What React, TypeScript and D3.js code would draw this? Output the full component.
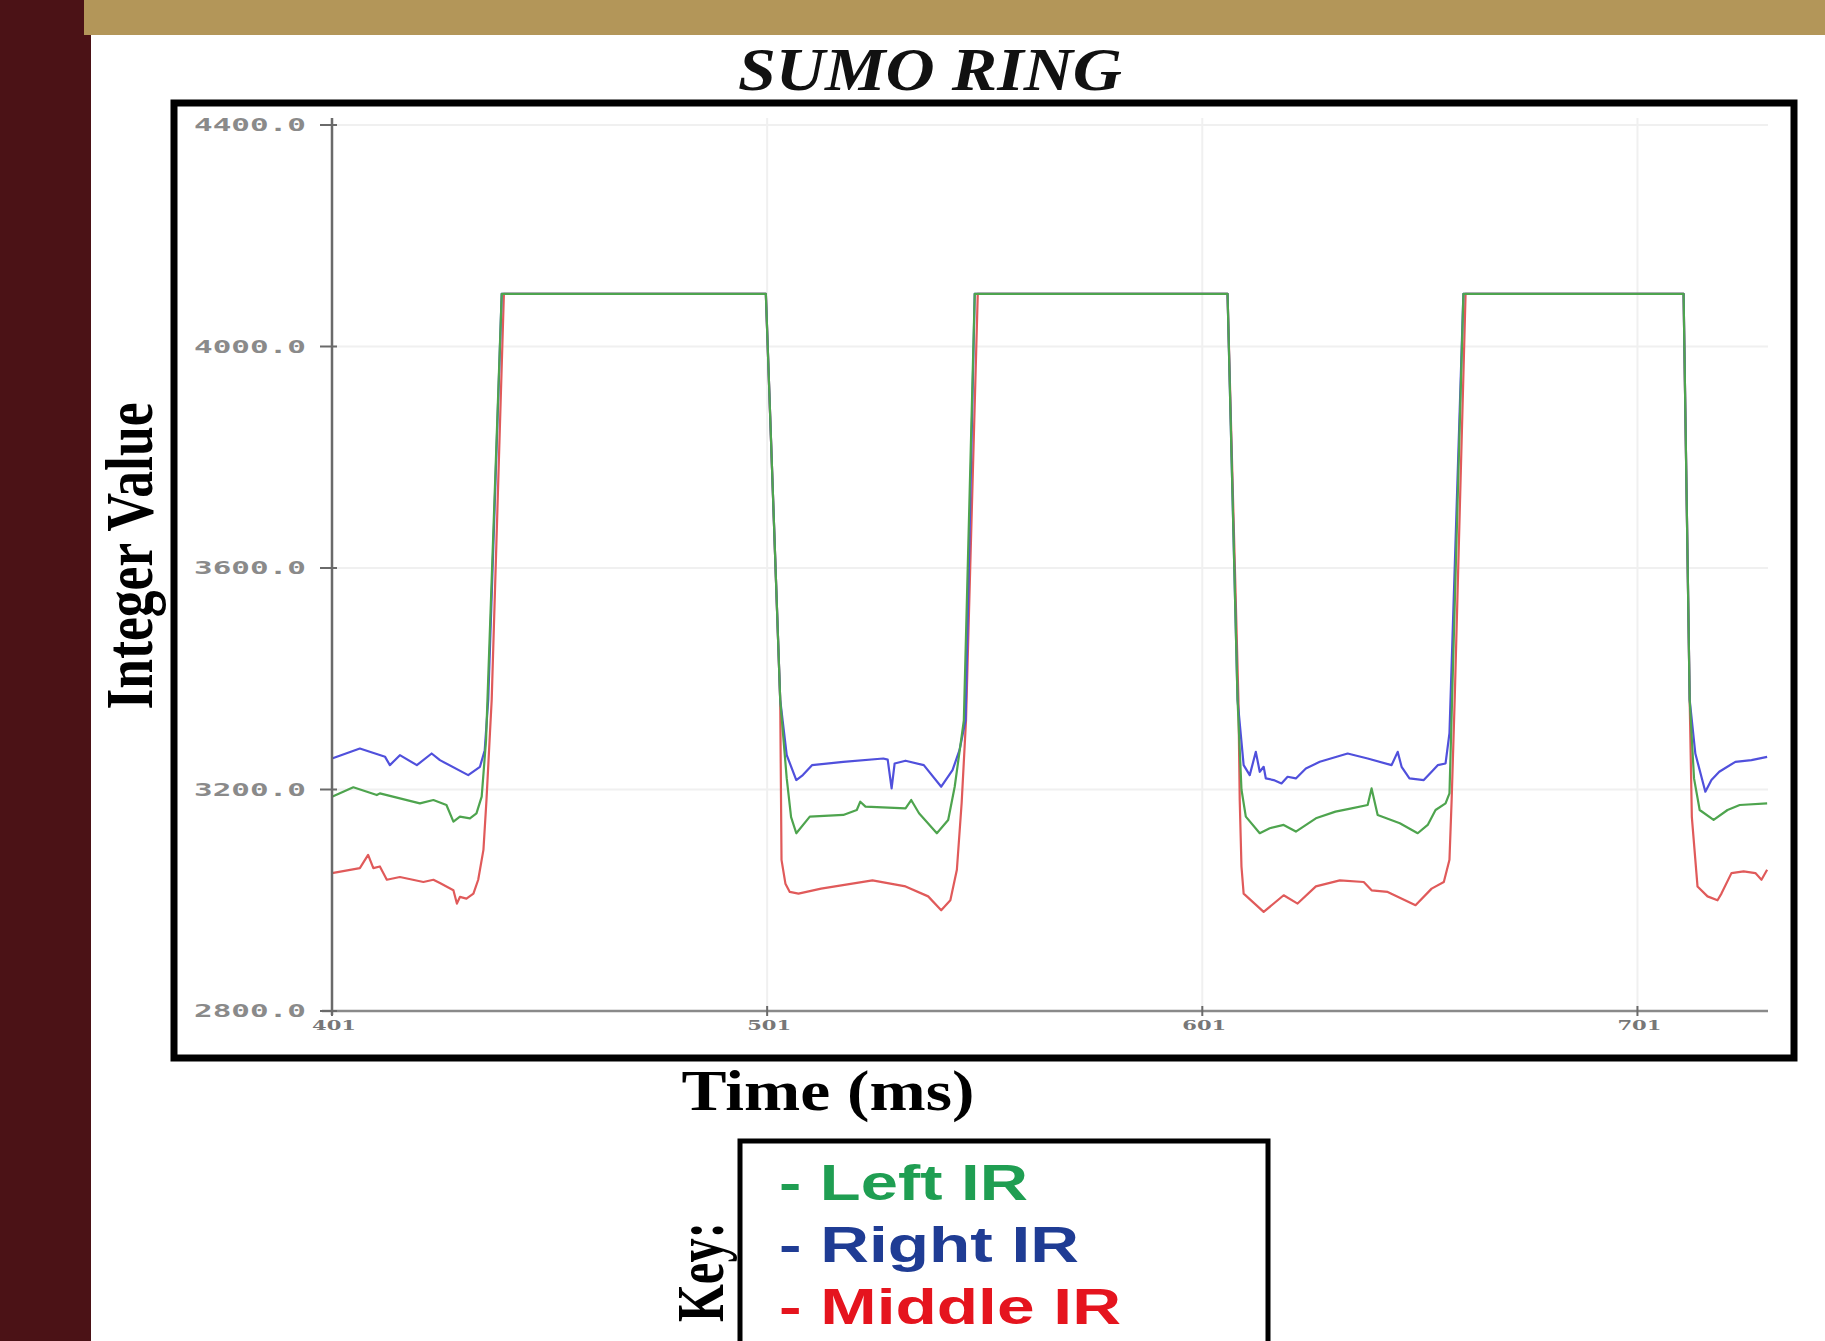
import React from "react";
import * as d3 from "d3";

const title = "SUMO RING";
const xTicks = [401, 501, 601, 701];
const yTicks = [2800, 3200, 3600, 4000, 4400];
const yTickLabels = ["2800.0", "3200.0", "3600.0", "4000.0", "4400.0"];
const legendNames = ["- Left IR", "- Right IR", "- Middle IR"];

// [time (ms), integer value]
const rightIR: [number, number][] = [
  [401, 3256], [407.4, 3274], [413.2, 3259], [414.3, 3244], [416.6, 3262], [420.5, 3244], [423.9, 3265], [425.8, 3253], [432.3, 3226], [435, 3241], [436.1, 3271], [436.9, 3362], [440, 4095],
  [500.7, 4095], [504, 3362], [505.5, 3262], [507.7, 3217], [509.2, 3226], [511.3, 3244], [518.5, 3250], [527.7, 3256], [528.7, 3254], [529.6, 3202], [530.3, 3247], [532.8, 3252], [537, 3244], [541, 3205], [543.6, 3235], [545.2, 3271], [546.6, 3325], [548.7, 4095],
  [606.8, 4095], [609.1, 3362], [610.5, 3244], [611.9, 3226], [613.3, 3268], [614.2, 3232], [615.1, 3241], [615.6, 3220], [617.4, 3217], [619.2, 3211], [620.6, 3223], [622.5, 3220], [624.8, 3238], [628, 3250], [634.4, 3265], [639, 3256], [644.5, 3244], [645.9, 3268], [646.8, 3241], [648.6, 3220], [651.9, 3217], [653.7, 3232], [655.1, 3244], [656.9, 3247], [657.8, 3302], [661, 4095],
  [711.6, 4095], [713, 3362], [714.3, 3265], [716.6, 3196], [718, 3217], [719.8, 3232], [723.5, 3250], [727.2, 3253], [730.8, 3259],
];

const leftIR: [number, number][] = [
  [401, 3187], [405.9, 3204], [411.3, 3190], [412, 3193], [421.2, 3175], [424.3, 3181], [427.3, 3172], [428.9, 3142], [430.4, 3151], [432.7, 3148], [434.2, 3157], [435.4, 3187], [436.4, 3289], [440, 4095],
  [500.7, 4095], [504, 3362], [505.5, 3220], [506.5, 3150], [507.7, 3121], [510.8, 3151], [518.5, 3154], [521.6, 3163], [522.4, 3178], [523.6, 3169], [532.8, 3166], [534.1, 3181], [535.9, 3157], [540, 3121], [542.6, 3145], [544.1, 3205], [546.2, 3325], [548.7, 4095],
  [606.8, 4095], [609.1, 3362], [610, 3200], [611, 3151], [614.2, 3121], [616.5, 3130], [619.7, 3136], [622.5, 3124], [627.1, 3148], [631.6, 3160], [635.3, 3166], [639, 3172], [639.9, 3202], [641.3, 3154], [646.4, 3139], [650.5, 3121], [652.8, 3136], [654.6, 3163], [656.9, 3175], [657.8, 3193], [661, 4095],
  [711.6, 4095], [713, 3362], [714, 3220], [715.3, 3163], [718.5, 3145], [721.7, 3163], [724.5, 3172], [730.8, 3175],
];

const middleIR: [number, number][] = [
  [401, 3049], [407.4, 3058], [409.3, 3082], [410.5, 3058], [412, 3061], [413.6, 3037], [416.6, 3042], [422, 3033], [424.3, 3037], [425.8, 3031], [428.9, 3018], [429.7, 2994], [430.4, 3006], [431.9, 3003], [433.5, 3012], [434.6, 3037], [435.8, 3091], [436.5, 3181], [437.3, 3302], [437.7, 3362], [440.5, 4095],
  [500.7, 4095], [504, 3362], [504.3, 3073], [505.2, 3030], [506.2, 3015], [508.2, 3012], [513.4, 3021], [525.2, 3036], [532.8, 3025], [538, 3007], [541, 2982], [543.1, 3000], [544.6, 3055], [545.7, 3176], [546.7, 3325], [549.4, 4095],
  [606.8, 4095], [609.3, 3362], [609.6, 3181], [610, 3061], [610.5, 3012], [615.1, 2979], [619.7, 3009], [622.9, 2994], [627.1, 3025], [632.6, 3036], [638.1, 3033], [639.9, 3018], [643.6, 3015], [650, 2991], [653.7, 3021], [656.5, 3033], [657.8, 3073], [658.3, 3181], [659, 3362], [661.5, 4095],
  [711.6, 4095], [713, 3362], [713.5, 3150], [714.8, 3025], [717.1, 3007], [719.4, 3000], [720.3, 3012], [722.6, 3049], [725.4, 3052], [728.1, 3049], [729.5, 3037], [730.8, 3055],
];

const W = 1825;
const H = 1341;

export default function App() {
  const x = d3.scaleLinear().domain([401, 731]).range([332, 1768]);
  const y = d3.scaleLinear().domain([2800, 4400]).range([1011, 125]);
  const line = d3
    .line<[number, number]>()
    .x((d) => x(d[0]))
    .y((d) => y(d[1]));

  const series = [
    { data: middleIR, color: "#e05a5a" },
    { data: rightIR, color: "#5050dc" },
    { data: leftIR, color: "#4ea44e" },
  ];
  const legendColors = ["#1f9e52", "#1f3c94", "#e5141e"];

  return (
    <svg
      width={W}
      height={H}
      style={{ position: "absolute", left: 0, top: 0, background: "#fff" }}
    >
      <rect x={0} y={0} width={W} height={H} fill="#ffffff" />
      <rect x={0} y={0} width={91} height={H} fill="#4b1216" />
      <rect x={84} y={0} width={W - 84} height={35} fill="#b39659" />

      <text
        x={930}
        y={90}
        textAnchor="middle"
        fontFamily="'Liberation Serif', 'Times New Roman', serif"
        fontWeight="bold"
        fontStyle="italic"
        fontSize={62}
        textLength={384}
        lengthAdjust="spacingAndGlyphs"
        fill="#111"
      >
        {title}
      </text>

      {/* gridlines */}
      {xTicks.slice(1).map((t) => (
        <line key={"gx" + t} x1={x(t)} x2={x(t)} y1={118} y2={y(2800)} stroke="#f0f0f0" strokeWidth={2} />
      ))}
      {yTicks.slice(1).map((v) => (
        <line key={"gy" + v} x1={x(401)} x2={x(731)} y1={y(v)} y2={y(v)} stroke="#f0f0f0" strokeWidth={2} />
      ))}

      {/* series */}
      {series.map((s, i) => (
        <path key={i} d={line(s.data) || ""} fill="none" stroke={s.color} strokeWidth={2.2} strokeLinejoin="round" />
      ))}

      {/* axes */}
      <line x1={x(401)} x2={x(401)} y1={118} y2={y(2800) + 4} stroke="#6a6a6a" strokeWidth={2.5} />
      <line x1={322} x2={x(731)} y1={y(2800)} y2={y(2800)} stroke="#8a8a8a" strokeWidth={2.5} />
      {yTicks.map((v) => (
        <line key={"ty" + v} x1={320} x2={337} y1={y(v)} y2={y(v)} stroke="#6a6a6a" strokeWidth={2} />
      ))}
      {xTicks.map((t) => (
        <line key={"tx" + t} x1={x(t)} x2={x(t)} y1={y(2800) - 5} y2={y(2800) + 5} stroke="#6a6a6a" strokeWidth={2} />
      ))}
      {yTicks.map((v, i) => (
        <text
          key={"ly" + v}
          x={306}
          y={y(v)}
          dy="0.36em"
          textAnchor="end"
          fontFamily="'DejaVu Sans Mono', monospace"
          fontWeight="bold"
          fontSize={17}
          textLength={112}
          lengthAdjust="spacingAndGlyphs"
          fill="#8a8a8a"
        >
          {yTickLabels[i]}
        </text>
      ))}
      {xTicks.map((t) => (
        <text
          key={"lx" + t}
          x={x(t) + 2}
          y={1030}
          textAnchor="middle"
          fontFamily="'DejaVu Serif', serif"
          fontWeight="bold"
          fontSize={13}
          textLength={44}
          lengthAdjust="spacingAndGlyphs"
          fill="#777"
        >
          {t}
        </text>
      ))}

      {/* frame */}
      <rect x={174} y={103} width={1620} height={955} fill="none" stroke="#000" strokeWidth={7} />

      <text
        transform="translate(152,556) rotate(-90)"
        textAnchor="middle"
        fontFamily="'Liberation Serif', 'Times New Roman', serif"
        fontWeight="bold"
        fontSize={68}
        textLength={307}
        lengthAdjust="spacingAndGlyphs"
        fill="#000"
      >
        Integer Value
      </text>

      <text
        x={828}
        y={1110}
        textAnchor="middle"
        fontFamily="'Liberation Serif', 'Times New Roman', serif"
        fontWeight="bold"
        fontSize={56}
        textLength={293}
        lengthAdjust="spacingAndGlyphs"
        fill="#000"
      >
        Time (ms)
      </text>

      {/* legend */}
      <rect x={740} y={1141} width={528} height={260} fill="#fff" stroke="#000" strokeWidth={5} />
      <text
        transform="translate(723,1272) rotate(-90)"
        textAnchor="middle"
        fontFamily="'Liberation Serif', 'Times New Roman', serif"
        fontWeight="bold"
        fontSize={68}
        textLength={100}
        lengthAdjust="spacingAndGlyphs"
        fill="#000"
      >
        Key:
      </text>
      {legendNames.map((n, i) => (
        <text
          key={n}
          x={779}
          y={1200 + i * 62}
          fontFamily="'Liberation Sans', Arial, sans-serif"
          fontWeight="bold"
          fontSize={50}
          textLength={[249, 300, 342][i]}
          lengthAdjust="spacingAndGlyphs"
          fill={legendColors[i]}
        >
          {n}
        </text>
      ))}
    </svg>
  );
}
